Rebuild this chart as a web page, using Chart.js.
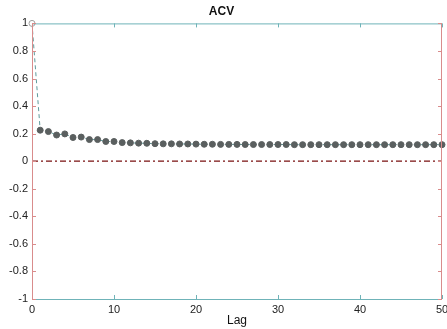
<!DOCTYPE html>
<html>
<head>
<meta charset="utf-8">
<script src="https://cdn.jsdelivr.net/npm/chart.js@4"></script>
<style>
  html, body { margin: 0; padding: 0; background: #fff; }
  #wrap { width: 447px; height: 329px; }
</style>
</head>
<body>
<div id="wrap"><canvas id="acvChart"></canvas></div>
<script>
// ACV values
const lags = [0, 1, 2, 3, 4, 5, 6, 7, 8, 9, 10,
    11, 12, 13, 14, 15, 16, 17, 18, 19, 20,
    21, 22, 23, 24, 25, 26, 27, 28, 29, 30,
    31, 32, 33, 34, 35, 36, 37, 38, 39, 40,
    41, 42, 43, 44, 45, 46, 47, 48, 49, 50];
const acv = [1.0, 0.225, 0.215, 0.19, 0.198, 0.172, 0.175, 0.157, 0.157, 0.143, 0.143,
    0.135, 0.133, 0.131, 0.130, 0.127, 0.126, 0.126, 0.125, 0.125, 0.124,
    0.123, 0.123, 0.122, 0.122, 0.122, 0.121, 0.121, 0.121, 0.121, 0.121,
    0.121, 0.120, 0.120, 0.120, 0.120, 0.120, 0.120, 0.120, 0.120, 0.120,
    0.120, 0.120, 0.120, 0.120, 0.120, 0.120, 0.120, 0.120, 0.120, 0.120];
const zeroLine = [0, 0];
const zeroLags = [0, 50];
const yTicks = [-1, -0.8, -0.6, -0.4, -0.2, 0, 0.2, 0.4, 0.6, 0.8, 1];
const xTicks = [0, 10, 20, 30, 40, 50];

// draws the box around the plot and the inward ticks, matlab style
const boxPlugin = {
    id: 'box',
    afterDraw(chart) {
        const ctx = chart.ctx;
        const a = chart.chartArea;
        const xs = chart.scales.x;
        const ys = chart.scales.y;
        ctx.save();
        ctx.lineWidth = 1;
        ctx.strokeStyle = '#6fb3b8';
        ctx.beginPath();
        ctx.moveTo(a.left, a.top + 0.5); ctx.lineTo(a.right, a.top + 0.5);
        ctx.moveTo(a.left, a.bottom + 0.5); ctx.lineTo(a.right, a.bottom + 0.5);
        xTicks.forEach(v => {
            const px = Math.round(xs.getPixelForValue(v)) + 0.5;
            ctx.moveTo(px, a.bottom); ctx.lineTo(px, a.bottom - 4);
            ctx.moveTo(px, a.top); ctx.lineTo(px, a.top + 4);
        });
        ctx.stroke();
        ctx.strokeStyle = '#d98c8c';
        ctx.beginPath();
        ctx.moveTo(a.left + 0.5, a.top); ctx.lineTo(a.left + 0.5, a.bottom);
        ctx.moveTo(a.right - 0.5, a.top); ctx.lineTo(a.right - 0.5, a.bottom);
        yTicks.forEach(v => {
            const py = Math.round(ys.getPixelForValue(v)) + 0.5;
            ctx.moveTo(a.left, py); ctx.lineTo(a.left + 4, py);
            ctx.moveTo(a.right, py); ctx.lineTo(a.right - 4, py);
        });
        ctx.stroke();
        ctx.restore();
    }
};

document.addEventListener('DOMContentLoaded', function() {
    const canvas = document.getElementById('acvChart');
    new Chart(canvas, {
        type: 'line',
        data: {
            datasets: [{
                label: 'zero',
                data: zeroLags.map((x, i) => ({ x: x, y: zeroLine[i] })),
                borderColor: '#7a1010',
                borderWidth: 1.3,
                borderDash: [6, 3, 2, 3],
                pointRadius: 0,
                order: 2
            }, {
                label: 'ACV',
                data: lags.map((x, i) => ({ x: x, y: acv[i] })),
                borderColor: '#5f9a9c',
                borderWidth: 1,
                borderDash: [4, 3],
                pointRadius: 3,
                pointBorderWidth: 1,
                pointBackgroundColor: c => c.dataIndex === 0 ? '#ffffff' : '#5a5f5f',
                pointBorderColor: c => c.dataIndex === 0 ? '#a0a0a0' : '#5a5f5f',
                clip: false,
                order: 1
            }]
        },
        options: {
            responsive: true,
            maintainAspectRatio: false,
            animation: false,
            layout: { padding: { left: 0, right: 4, top: 0, bottom: 0 } },
            plugins: {
                legend: { display: false },
                tooltip: { enabled: false },
                title: {
                    display: true,
                    text: 'ACV',
                    color: '#111',
                    font: { family: 'Liberation Sans', size: 12, weight: 'bold' },
                    padding: { top: 4, bottom: 5 }
                }
            },
            scales: {
                x: {
                    type: 'linear',
                    min: 0,
                    max: 50,
                    grid: { display: false, drawTicks: false },
                    border: { display: false },
                    afterBuildTicks: s => { s.ticks = xTicks.map(v => ({ value: v })); },
                    afterFit: s => { s.height = 30; s.paddingLeft = 0; s.paddingRight = 0; },
                    ticks: {
                        color: '#222',
                        font: { family: 'Liberation Sans', size: 11 },
                        padding: 4,
                        maxRotation: 0
                    },
                    title: {
                        display: true,
                        text: 'Lag',
                        color: '#111',
                        font: { family: 'Liberation Sans', size: 12 },
                        padding: { top: 0, bottom: 1 }
                    }
                },
                y: {
                    min: -1,
                    max: 1,
                    grid: { display: false, drawTicks: false },
                    border: { display: false },
                    afterBuildTicks: s => { s.ticks = yTicks.map(v => ({ value: v })); },
                    afterFit: s => { s.width = 32; s.paddingTop = 0; s.paddingBottom = 0; },
                    ticks: {
                        color: '#222',
                        font: { family: 'Liberation Sans', size: 11 },
                        padding: 4,
                        callback: v => String(Math.round(v * 10) / 10)
                    }
                }
            }
        },
        plugins: [boxPlugin]
    });
});
</script>
</body>
</html>
